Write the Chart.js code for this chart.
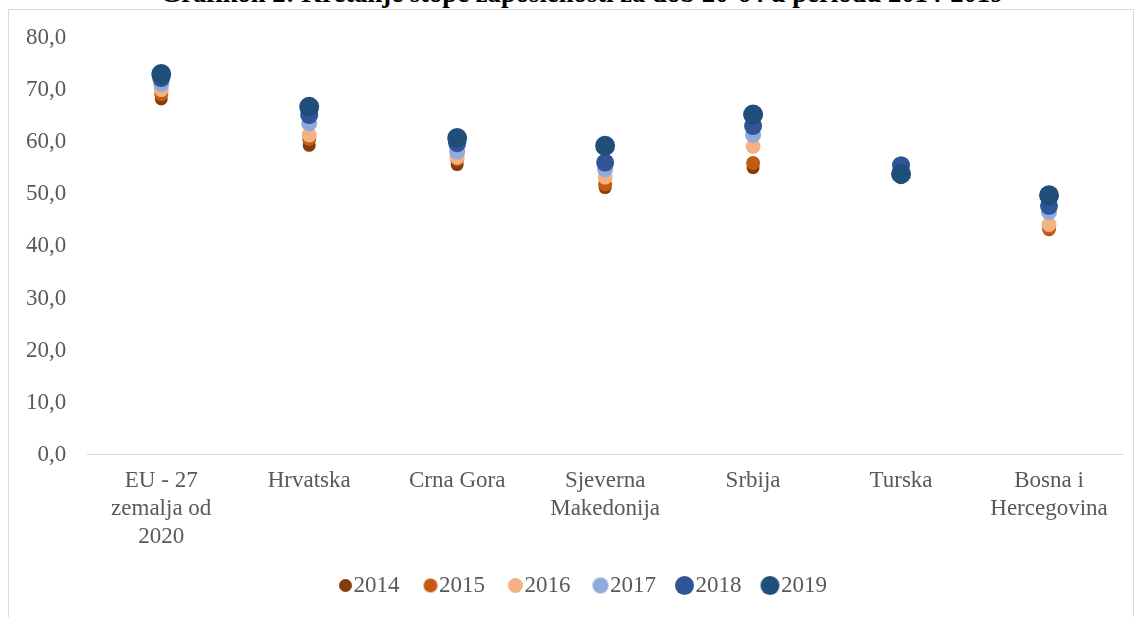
<!DOCTYPE html>
<html>
<head>
<meta charset="utf-8">
<script src="https://cdn.jsdelivr.net/npm/chart.js@4.4.1/dist/chart.umd.min.js"></script>
<style>
  html, body { margin: 0; padding: 0; background: #fff; overflow: hidden; }
  #wrap { position: relative; width: 1138px; height: 617px; }
  #frame { position: absolute; left: 8px; top: 9px; width: 1126px; height: 700px; border: 1px solid #d9d9d9; box-sizing: border-box; }
  #title { position: absolute; left: 0; width: 1164px; top: -22px; line-height: 26px; text-align: center; font: bold 26.7px "Liberation Serif", "Times New Roman", serif; color: #000; white-space: nowrap; }
  #c { position: absolute; left: 0; top: 0; }
</style>
</head>
<body>
<div id="wrap">
  <div id="frame"></div>
  <div id="title">Grafikon 2: Kretanje stope zaposlenosti za dob 20-64 u periodu 2014-2019</div>
  <canvas id="c" width="1138" height="617"></canvas>
</div>
<script>
const categories = [
  ["EU - 27", "zemalja od", "2020"],
  "Hrvatska",
  "Crna Gora",
  ["Sjeverna", "Makedonija"],
  "Srbija",
  "Turska",
  ["Bosna i", "Hercegovina"]
];
const years = ["2014", "2015", "2016", "2017", "2018", "2019"];
const v2014 = [68.3, 59.4, 55.7, 51.3, 55.1, 53.2, 43.2];
const v2015 = [69.2, 60.6, 56.7, 51.9, 56.0, 53.9, 43.4];
const v2016 = [70.1, 61.4, 57.1, 53.3, 59.2, 54.3, 44.2];
const v2017 = [71.2, 63.6, 58.2, 54.8, 61.4, 55.3, 46.6];
const v2018 = [72.3, 65.2, 59.8, 56.1, 63.1, 55.6, 47.8];
const v2019 = [73.1, 66.8, 60.8, 59.3, 65.3, 53.9, 49.8];
const yTicks = [0, 10, 20, 30, 40, 50, 60, 70, 80];

const seriesValues = [v2014, v2015, v2016, v2017, v2018, v2019];
const colors = ["#843C0C", "#C55A11", "#F4B183", "#8FAADC", "#2F5597", "#1F4E79"];
const radii = [6.5, 7, 7.5, 8, 9, 10];
const legendR = [6.5, 7, 7.5, 8, 9.5, 9.5];
const FS = 23;
const BOXW = 2;

// legend dot image: dot shifted so that it sits just left of the text
function dot(r, color) {
  const shift = (BOXW + FS / 2 - 1.5 - r) - BOXW / 2;
  const w = Math.ceil(2 * (Math.abs(shift) + r) + 2);
  const h = Math.ceil(2 * r + 2);
  const c = document.createElement('canvas');
  c.width = w; c.height = h;
  const x = c.getContext('2d');
  x.fillStyle = color;
  x.beginPath();
  x.arc(w / 2 + shift, h / 2, r, 0, Math.PI * 2);
  x.fill();
  return c;
}
const legendImgs = colors.map((c, i) => dot(legendR[i], c));

const datasets = years.map((y, i) => ({
  label: y,
  data: seriesValues[i],
  showLine: false,
  backgroundColor: colors[i],
  borderColor: colors[i],
  pointBackgroundColor: colors[i],
  pointBorderColor: colors[i],
  pointBorderWidth: 0,
  pointRadius: radii[i],
  pointHoverRadius: radii[i],
  order: years.length - i
}));

const serif = "'Liberation Serif', 'Times New Roman', serif";

const legendShift = {
  id: 'legendShift',
  afterLayout(chart) {
    const lg = chart.legend;
    if (lg) { lg.left += 19.5; lg.right += 19.5; lg.top -= 15; lg.bottom -= 15; }
  }
};

new Chart(document.getElementById('c'), {
  type: 'line',
  data: { labels: categories, datasets },
  plugins: [legendShift],
  options: {
    responsive: false,
    animation: false,
    layout: { padding: { left: 5, right: 15, top: 38, bottom: -5 } },
    plugins: {
      tooltip: { enabled: false },
      legend: {
        position: 'bottom',
        labels: {
          usePointStyle: true,
          boxWidth: BOXW,
          boxHeight: 10,
          padding: 26,
          color: '#595959',
          font: { family: serif, size: FS },
          generateLabels: (chart) => years.map((y, i) => ({
            text: y,
            datasetIndex: i,
            pointStyle: legendImgs[i],
            fillStyle: colors[i],
            strokeStyle: colors[i],
            lineWidth: 0,
            fontColor: '#595959',
            hidden: false
          }))
        }
      }
    },
    scales: {
      x: {
        type: 'category',
        offset: true,
        grid: { display: false, drawTicks: false },
        border: { display: true, color: '#d9d9d9', width: 1 },
        ticks: {
          color: '#595959',
          font: { family: serif, size: FS, lineHeight: 1.22 },
          padding: 12,
          maxRotation: 0,
          autoSkip: false
        }
      },
      y: {
        min: 0,
        max: 80,
        afterBuildTicks: (axis) => { axis.ticks = yTicks.map(v => ({ value: v })); },
        grid: { display: false, drawTicks: false },
        border: { display: false },
        ticks: {
          color: '#595959',
          font: { family: serif, size: FS },
          padding: 21,
          callback: (v) => v.toFixed(1).replace('.', ',')
        }
      }
    }
  }
});
</script>
</body>
</html>
